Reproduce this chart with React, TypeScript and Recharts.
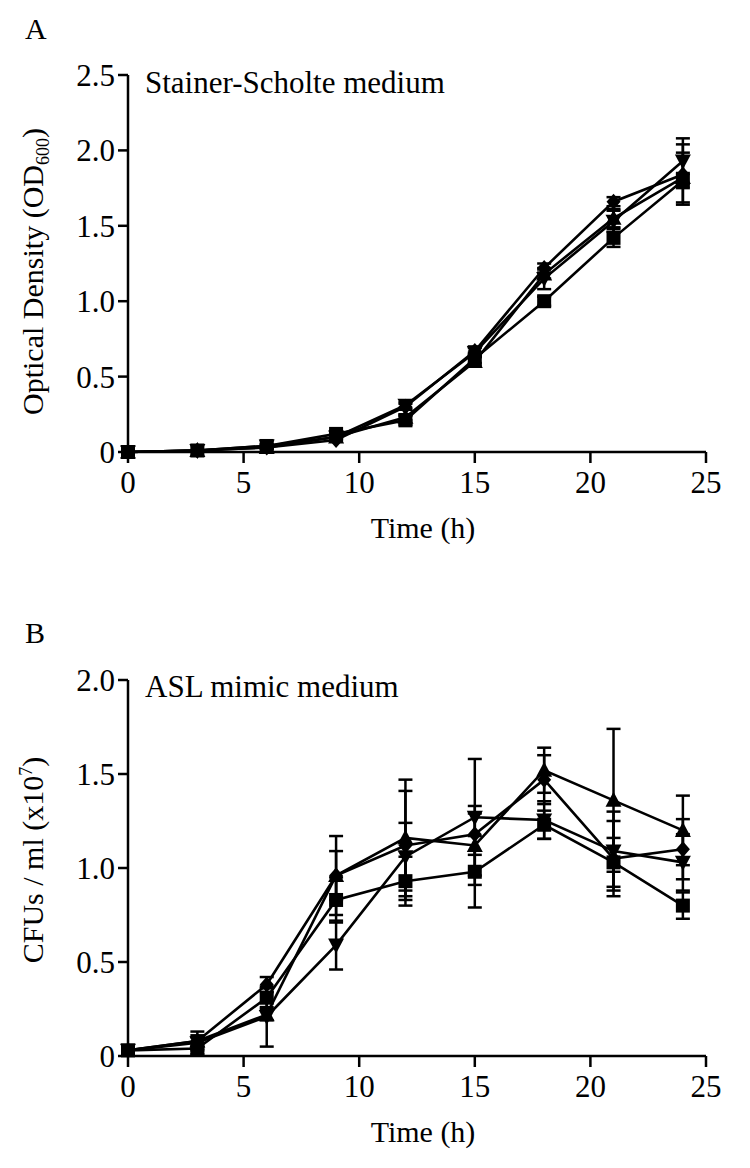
import React from 'react';
import { LineChart, Line, XAxis, YAxis, ErrorBar } from 'recharts';

// ---------- data ----------
const TIME_H = [0, 3, 6, 9, 12, 15, 18, 21, 24];

// Panel A: Optical density (OD600), Stainer-Scholte medium
const A_SQUARE = [0, 0.01, 0.04, 0.12, 0.21, 0.62, 1.0, 1.42, 1.8];
const A_DIAMOND = [0, 0.01, 0.03, 0.08, 0.3, 0.67, 1.22, 1.66, 1.84];
const A_UP = [0, 0.01, 0.03, 0.1, 0.23, 0.6, 1.18, 1.55, 1.82];
const A_DOWN = [0, 0.01, 0.04, 0.1, 0.31, 0.66, 1.15, 1.53, 1.93];
const A_SQUARE_ERR = [0, 0, 0.01, 0.02, 0.03, 0.03, 0.03, 0.06, 0.05];
const A_DIAMOND_ERR = [0, 0, 0.01, 0.01, 0.02, 0.03, 0.03, 0.03, 0.2];
const A_UP_ERR = [0, 0, 0.01, 0.01, 0.02, 0.03, 0.03, 0.06, 0.165];
const A_DOWN_ERR = [0, 0, 0.01, 0.01, 0.02, 0.03, 0.07, 0.07, 0.15];

// Panel B: CFUs / ml (x10^7), ASL mimic medium
const B_SQUARE = [0.03, 0.04, 0.31, 0.83, 0.93, 0.98, 1.23, 1.03, 0.8];
const B_DIAMOND = [0.03, 0.08, 0.38, 0.96, 1.12, 1.18, 1.47, 1.05, 1.1];
const B_UP = [0.03, 0.08, 0.22, 0.96, 1.16, 1.12, 1.52, 1.36, 1.2];
const B_DOWN = [0.03, 0.07, 0.21, 0.59, 1.06, 1.27, 1.255, 1.09, 1.03];
const B_SQUARE_ERR = [0.01, 0.03, 0.05, 0.12, 0.13, 0.19, 0.075, 0.13, 0.07];
const B_DIAMOND_ERR = [0.01, 0.03, 0.04, 0.21, 0.29, 0.11, 0.13, 0.2, 0.16];
const B_UP_ERR = [0.01, 0.05, 0.03, 0.13, 0.31, 0.21, 0.12, 0.38, 0.185];
const B_DOWN_ERR = [0.01, 0.03, 0.16, 0.13, 0.18, 0.31, 0.1, 0.21, 0.15];

const X_TICKS = [0, 5, 10, 15, 20, 25];
const A_Y_TICKS = [0, 0.5, 1, 1.5, 2, 2.5];
const B_Y_TICKS = [0, 0.5, 1, 1.5, 2];

const PANEL_A_TITLE = 'A';
const PANEL_B_TITLE = 'B';
const A_MEDIUM = 'Stainer-Scholte medium';
const B_MEDIUM = 'ASL mimic medium';
const X_LABEL = 'Time (h)';

// ---------- styles ----------
const FONT = '"Liberation Serif", "Times New Roman", Times, serif';
const AXIS_W = 2.5;

type Shape = 'square' | 'diamond' | 'up' | 'down';

function makeDot(shape: Shape) {
  return (props: any) => {
    const { cx, cy, index } = props;
    const k = `dot-${shape}-${index}`;
    if (cx == null || cy == null) return <g key={k} />;
    if (shape === 'square')
      return <rect key={k} x={cx - 7} y={cy - 7} width={14} height={14} fill="#000" />;
    if (shape === 'diamond')
      return (
        <polygon
          key={k}
          points={`${cx},${cy - 8} ${cx + 7},${cy} ${cx},${cy + 8} ${cx - 7},${cy}`}
          fill="#000"
        />
      );
    if (shape === 'up')
      return (
        <polygon
          key={k}
          points={`${cx},${cy - 8.5} ${cx + 8},${cy + 6.5} ${cx - 8},${cy + 6.5}`}
          fill="#000"
        />
      );
    return (
      <polygon
        key={k}
        points={`${cx},${cy + 8.5} ${cx + 8},${cy - 6.5} ${cx - 8},${cy - 6.5}`}
        fill="#000"
      />
    );
  };
}

function buildRows(sq: number[], di: number[], up: number[], dn: number[],
  sqE: number[], diE: number[], upE: number[], dnE: number[]) {
  return TIME_H.map((t, i) => ({
    t,
    sq: sq[i], sqErr: sqE[i],
    di: di[i], diErr: diE[i],
    up: up[i], upErr: upE[i],
    dn: dn[i], dnErr: dnE[i],
  }));
}

const A_ROWS = buildRows(A_SQUARE, A_DIAMOND, A_UP, A_DOWN, A_SQUARE_ERR, A_DIAMOND_ERR, A_UP_ERR, A_DOWN_ERR);
const B_ROWS = buildRows(B_SQUARE, B_DIAMOND, B_UP, B_DOWN, B_SQUARE_ERR, B_DIAMOND_ERR, B_UP_ERR, B_DOWN_ERR);

const SERIES: { key: string; shape: Shape }[] = [
  { key: 'sq', shape: 'square' },
  { key: 'up', shape: 'up' },
  { key: 'dn', shape: 'down' },
  { key: 'di', shape: 'diamond' },
];

const fmtY = (v: number) => (v === 0 ? '0' : v.toFixed(1));

interface PanelProps {
  rows: any[];
  yTicks: number[];
  yMax: number;
  yLabel: 'od' | 'cfu';
  height: number;
  bottomMargin: number;
  topMargin: number;
}

function Panel({ rows, yTicks, yMax, yLabel, height, bottomMargin, topMargin }: PanelProps) {
  const renderYLabel = (props: any) => {
    const vb = props.viewBox || {};
    const x = 43;
    if (yLabel === 'od') {
      const cy = (vb.y ?? 0) + (vb.height ?? 0) / 2 + 8;
      return (
        <text x={x} y={cy} transform={`rotate(-90, ${x}, ${cy})`} textAnchor="middle"
          fontFamily={FONT} fontSize={30} fill="#000">
          Optical Density (OD
          <tspan fontSize={18} dy={6}>600</tspan>
          <tspan dy={-6}>)</tspan>
        </text>
      );
    }
    const cy = (vb.y ?? 0) + (vb.height ?? 0) / 2 - 8;
    return (
      <text x={x} y={cy} transform={`rotate(-90, ${x}, ${cy})`} textAnchor="middle"
        fontFamily={FONT} fontSize={30} fill="#000">
        CFUs / ml (x10
        <tspan fontSize={18} dy={-11}>7</tspan>
        <tspan dy={11}>)</tspan>
      </text>
    );
  };

  const renderXLabel = (props: any) => {
    const vb = props.viewBox || {};
    const cx = (vb.x ?? 0) + (vb.width ?? 0) / 2 + 6;
    const y = (vb.y ?? 0) + 86;
    return (
      <text x={cx} y={y} textAnchor="middle" fontFamily={FONT} fontSize={30} fill="#000">
        {X_LABEL}
      </text>
    );
  };

  return (
    <LineChart
      width={750}
      height={height}
      data={rows}
      margin={{ top: topMargin, right: 44, bottom: bottomMargin, left: 48 }}
      style={{ background: 'transparent' }}
    >
      <XAxis
        type="number"
        dataKey="t"
        domain={[0, 25]}
        ticks={X_TICKS}
        height={60}
        axisLine={{ stroke: '#000', strokeWidth: AXIS_W }}
        tickLine={{ stroke: '#000', strokeWidth: AXIS_W }}
        tickSize={11}
        tickMargin={8}
        tick={{ fill: '#000', fontSize: 31, fontFamily: FONT }}
        label={renderXLabel}
      />
      <YAxis
        type="number"
        domain={[0, yMax]}
        ticks={yTicks}
        width={80}
        tickFormatter={fmtY}
        axisLine={{ stroke: '#000', strokeWidth: AXIS_W }}
        tickLine={{ stroke: '#000', strokeWidth: AXIS_W }}
        tickSize={10}
        tickMargin={3}
        tick={{ fill: '#000', fontSize: 31, fontFamily: FONT }}
        label={renderYLabel}
      />
      {SERIES.map((s) => (
        <Line
          key={s.key}
          type="linear"
          dataKey={s.key}
          stroke="#000"
          strokeWidth={2.6}
          dot={makeDot(s.shape)}
          activeDot={false}
          isAnimationActive={false}
        >
          <ErrorBar dataKey={`${s.key}Err`} direction="y" width={7} stroke="#000" strokeWidth={2.5} isAnimationActive={false} />
        </Line>
      ))}
    </LineChart>
  );
}

export default function App() {
  return (
    <div style={{ position: 'relative', width: 750, height: 1168, margin: -8, background: '#fff', overflow: 'hidden' }}>
      <div style={{ position: 'absolute', left: 0, top: 0 }}>
        <Panel rows={A_ROWS} yTicks={A_Y_TICKS} yMax={2.5} yLabel="od" height={560} topMargin={75} bottomMargin={48} />
      </div>
      <div style={{ position: 'absolute', left: 0, top: 600 }}>
        <Panel rows={B_ROWS} yTicks={B_Y_TICKS} yMax={2.0} yLabel="cfu" height={568} topMargin={80} bottomMargin={52} />
      </div>
      <svg width={750} height={1168} style={{ position: 'absolute', left: 0, top: 0, pointerEvents: 'none' }}>
        <text x={25} y={39} fontFamily={FONT} fontSize={30} fill="#000">{PANEL_A_TITLE}</text>
        <text x={145} y={93} fontFamily={FONT} fontSize={31} fill="#000">{A_MEDIUM}</text>
        <text x={25} y={643} fontFamily={FONT} fontSize={30} fill="#000">{PANEL_B_TITLE}</text>
        <text x={145} y={697} fontFamily={FONT} fontSize={31} fill="#000">{B_MEDIUM}</text>
      </svg>
    </div>
  );
}
